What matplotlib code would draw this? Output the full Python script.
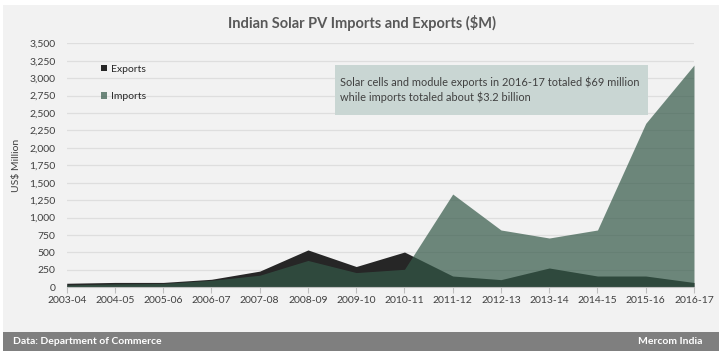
import matplotlib
matplotlib.use('Agg')
import matplotlib.pyplot as plt
import matplotlib.patches as patches

years = ['2003-04', '2004-05', '2005-06', '2006-07', '2007-08', '2008-09', '2009-10',
         '2010-11', '2011-12', '2012-13', '2013-14', '2014-15', '2015-16', '2016-17']
exports = [58, 70, 70, 115, 232, 536, 298, 506, 162, 110, 277, 162, 162, 69]
imports = [34, 48, 55, 100, 173, 385, 211, 258, 1338, 822, 707, 822, 2352, 3188]
yticks = list(range(0, 3501, 250))

plt.rcParams['font.family'] = ['Lato', 'DejaVu Sans']
W, H = 723, 356
fig = plt.figure(figsize=(W / 100, H / 100), dpi=100, facecolor='white')

def fig_rect(x0, y0, x1, y1, color, z):
    # pixel box (top-left origin) -> figure fraction
    fig.patches.append(patches.Rectangle((x0 / W, 1 - y1 / H), (x1 - x0) / W, (y1 - y0) / H,
                                         transform=fig.transFigure, facecolor=color,
                                         edgecolor='none', zorder=z))

fig_rect(3, 5, 719, 332, '#f2f2f2', -1)
fig_rect(3, 332, 719, 351, '#7f7f7f', -1)

ax = fig.add_axes([66.7 / W, 1 - 287.3 / H, (694 - 66.7) / W, (287.3 - 43.3) / H])
ax.set_zorder(1)
ax.set_facecolor('none')
x = list(range(len(years)))
ax.fill_between(x, 0, exports, color='#262626', lw=0, label='Exports', zorder=2)
ax.fill_between(x, 0, imports, color='#345948', alpha=0.7, lw=0, label='Imports', zorder=3)

ax.set_xlim(0, len(years) - 1)
ax.set_ylim(0, 3500)
ax.set_xticks(x)
ax.set_xticklabels(years)
ax.set_yticks(yticks)
ax.set_yticklabels([f'{v:,}' for v in yticks])
ax.tick_params(axis='x', length=4, color='#bfbfbf', labelsize=7.5, labelcolor='#404040', pad=2)
ax.tick_params(axis='y', length=0, labelsize=7.5, labelcolor='#404040', pad=8)
ax.grid(axis='y', color='#dedede', lw=0.9, zorder=0)
ax.set_axisbelow(True)
for s in ['top', 'right', 'left']:
    ax.spines[s].set_visible(False)
ax.spines['bottom'].set_color('#bfbfbf')
ax.spines['bottom'].set_zorder(4)
ax.set_ylabel('US$ Million', fontsize=7.5, color='#404040', labelpad=6)

ax.legend(loc='upper left', bbox_to_anchor=(0.04, 0.95), frameon=False, fontsize=7.5,
          handlelength=0.55, handleheight=0.55, handletextpad=0.35, labelspacing=1.75,
          labelcolor='#262626')

fig_rect(335, 65, 648, 115, '#c9d6d3', 2)
fig.text(340 / W, 1 - 82 / H, 'Solar cells and module exports in 2016-17 totaled $69 million',
         fontsize=7.9, color='#404040', va='center', zorder=3)
fig.text(340 / W, 1 - 97 / H, 'while imports totaled about $3.2 billion',
         fontsize=7.9, color='#404040', va='center', zorder=3)

fig.text(0.5, 1 - 23 / H, 'Indian Solar PV Imports and Exports ($M)', ha='center', va='center',
         fontsize=10.5, fontweight='bold', color='#595959')
fig.text(13 / W, 1 - 342 / H, 'Data: Department of Commerce', ha='left', va='center',
         fontsize=7.5, fontweight='bold', color='white')
fig.text(702 / W, 1 - 342 / H, 'Mercom India', ha='right', va='center',
         fontsize=7.5, fontweight='bold', color='white')

fig.savefig('out.png', dpi=100)
